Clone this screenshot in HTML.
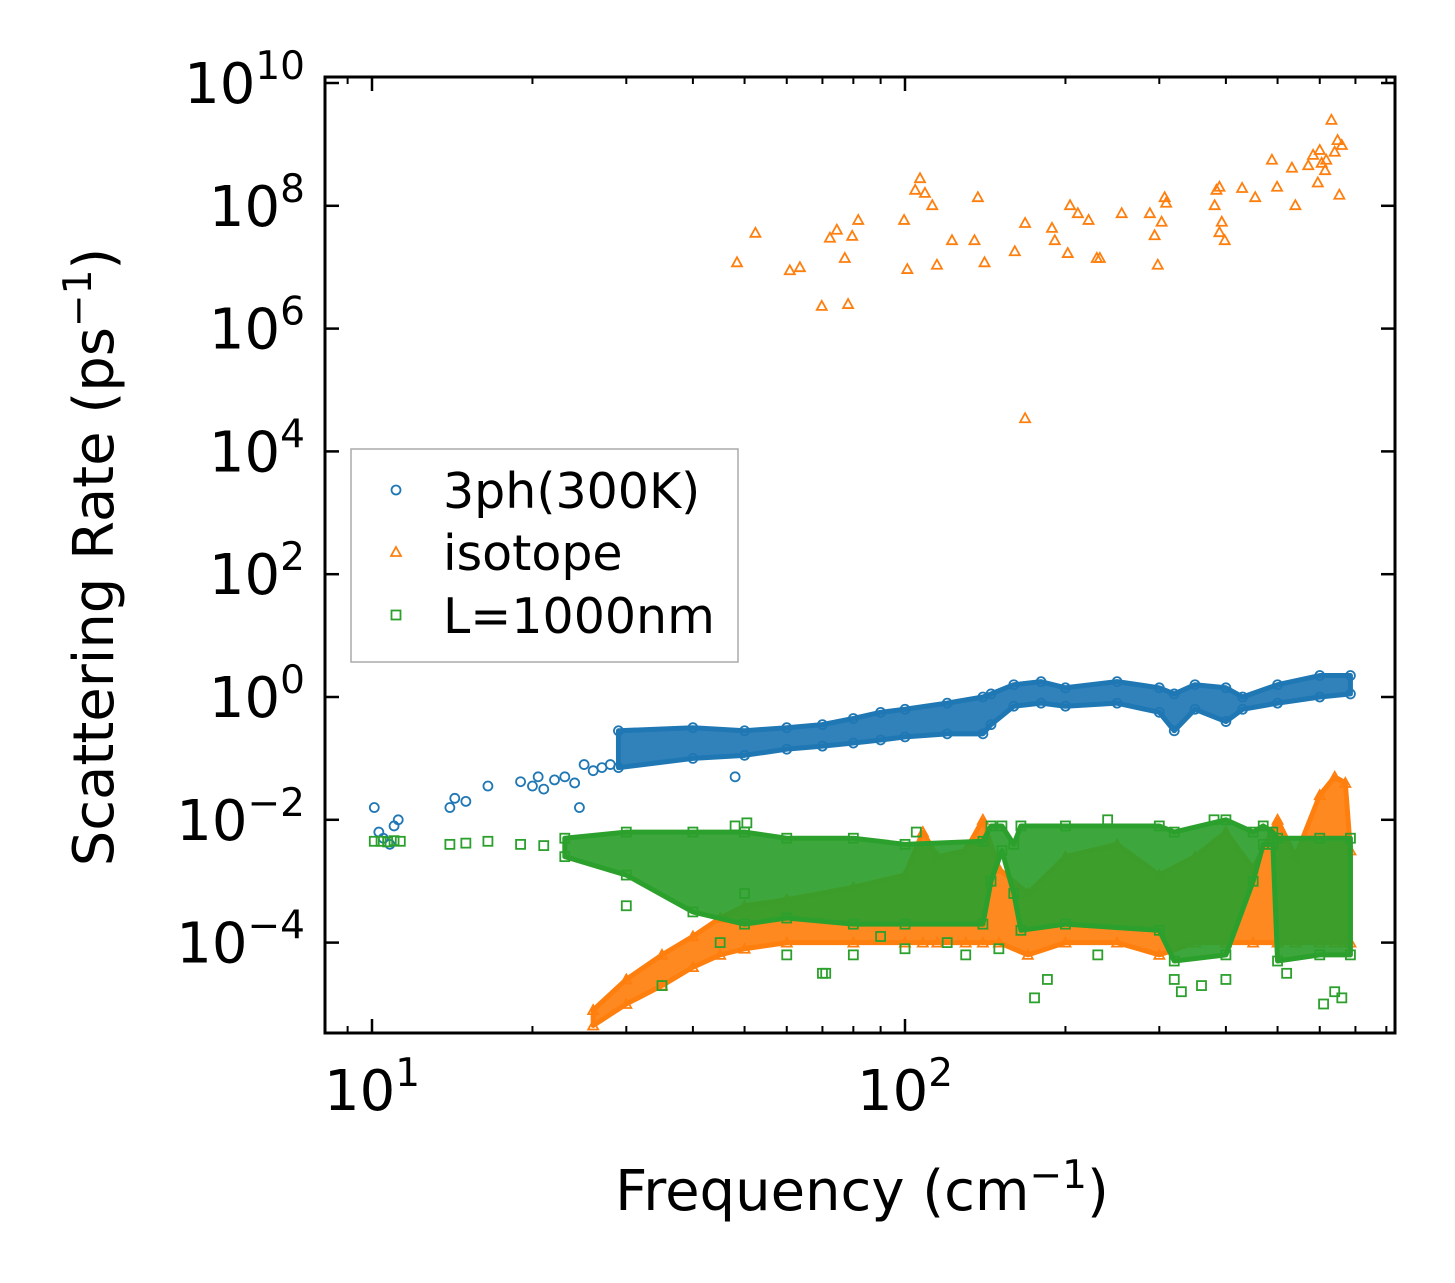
<!DOCTYPE html>
<html><head><meta charset="utf-8"><style>
html,body{margin:0;padding:0;background:#fff;}
svg{display:block;font-family:"DejaVu Sans","Liberation Sans",sans-serif;}
</style></head><body>
<svg id="chart" width="1455" height="1283" viewBox="0 0 1455 1283" xmlns="http://www.w3.org/2000/svg">
<rect width="1455" height="1283" fill="#fff"/>
<g id="marks"></g>
<rect x="325" y="77" width="1070" height="956" fill="none" stroke="#000" stroke-width="3"/>
<g id="ticks"></g>
<text transform="translate(113,557) rotate(-90)" text-anchor="middle" font-size="56">Scattering Rate (ps<tspan dy="-22" font-size="39">−1</tspan><tspan dy="22">)</tspan></text>
<text x="862" y="1210" text-anchor="middle" font-size="56">Frequency (cm<tspan dy="-22" font-size="39">−1</tspan><tspan dy="22">)</tspan></text>
<g>
<rect x="351" y="449" width="387" height="213" fill="#fff" stroke="#aaa" stroke-width="1.5"/>
<circle cx="396" cy="490" r="4.5" fill="none" stroke="#1f77b4" stroke-width="1.8"/>
<text x="443" y="508" font-size="49">3ph(300K)</text>
<polygon points="396,547 401,556 391,556" fill="none" stroke="#ff7f0e" stroke-width="1.8"/>
<text x="443" y="570" font-size="49">isotope</text>
<rect x="391.5" y="610.5" width="9" height="9" fill="none" stroke="#2ca02c" stroke-width="1.8"/>
<text x="443" y="633" font-size="49">L=1000nm</text>
</g>
</svg>
<script>
// ---- data (frequency in cm^-1, rates as log10 of ps^-1) ----
const blueFreq = [10.1,10.3,10.5,10.8,11,11.2,14,14.3,15,16.5,19,20,20.5,21,22,23,24,25,26,27,28,24.5,48];
const blueLog  = [-1.8,-2.2,-2.3,-2.4,-2.1,-2.0,-1.8,-1.65,-1.7,-1.45,-1.38,-1.45,-1.3,-1.5,-1.35,-1.3,-1.4,-1.1,-1.2,-1.15,-1.1,-1.8,-1.3];
const blueBandFreq = [29,40,50,60,70,80,90,100,120,140,145,160,180,200,250,300,320,350,400,430,500,600,685];
const blueBandLo   = [-1.15,-1.0,-0.95,-0.85,-0.8,-0.75,-0.7,-0.65,-0.6,-0.6,-0.45,-0.15,-0.1,-0.15,-0.1,-0.25,-0.55,-0.2,-0.4,-0.2,-0.1,0.0,0.05];
const blueBandHi   = [-0.55,-0.5,-0.55,-0.5,-0.45,-0.35,-0.25,-0.2,-0.1,0.0,0.05,0.2,0.25,0.15,0.25,0.15,0.05,0.2,0.15,0.0,0.2,0.35,0.35];

const orangeFreq = [48.4,52.4,60.8,63.5,69.8,72.3,74.5,77.1,78.2,79.6,81.7,99.6,101,104.5,106.7,109,112.5,114.8,122.5,135,137,141,160.7,168,168,188.7,191,202,204,211,221,229,232,255,288,294,298,303,307,309,381,384,389,389,393,398,429,454,488,499,532,540,571,583,595,600,605,614,617,631,640,648,653,660];
const orangeLog  = [7.08,7.56,6.95,7.0,6.37,7.48,7.61,7.15,6.40,7.51,7.77,7.77,6.97,8.26,8.45,8.21,8.01,7.04,7.44,7.44,8.14,7.08,7.26,4.54,7.72,7.64,7.44,7.23,8.01,7.88,7.77,7.15,7.15,7.88,7.88,7.52,7.04,7.74,8.14,8.05,8.01,8.26,8.31,7.57,7.74,7.44,8.29,8.14,8.75,8.31,8.62,8.01,8.66,8.83,8.38,8.91,8.70,8.58,8.75,9.4,8.88,9.07,8.18,8.99];
const orangeBandFreq = [26,30,35,40,45,50,60,80,100,108,115,130,140,150,170,200,250,300,350,400,450,500,540,600,640,670,685];
const orangeBandLo   = [-5.35,-5.0,-4.7,-4.4,-4.2,-4.1,-4.0,-4.0,-4.0,-4.0,-4.0,-4.0,-4.0,-4.0,-4.2,-4.0,-4.0,-4.2,-4.0,-4.0,-4.0,-4.0,-4.0,-4.0,-4.0,-4.0,-4.0];
const orangeBandHi   = [-5.1,-4.6,-4.2,-3.9,-3.6,-3.4,-3.3,-3.1,-2.9,-2.2,-2.6,-2.5,-2.0,-2.8,-3.2,-2.6,-2.4,-2.9,-2.6,-2.2,-2.8,-2.0,-2.6,-1.6,-1.3,-1.4,-2.5];

const greenFreq = [10.1,10.4,10.7,11,11.3,14,15,16.5,19,21,35,70,71,45,60,80,90,100,120,130,150,175,185,230,320,330,360,400,520,610,640,660,30,50,48,50.5,105,240,380];
const greenLog  = [-2.35,-2.35,-2.36,-2.34,-2.35,-2.4,-2.38,-2.35,-2.4,-2.42,-4.7,-4.5,-4.5,-4.0,-4.2,-4.2,-3.9,-4.1,-4.0,-4.2,-4.1,-4.9,-4.6,-4.2,-4.6,-4.8,-4.7,-4.6,-4.5,-5.0,-4.8,-4.9,-3.4,-3.2,-2.1,-2.05,-2.2,-2.0,-2.0];
const greenBandFreq = [23,30,40,50,60,80,100,140,145,152,160,165,200,300,320,400,450,470,490,500,600,685];
const greenBandLo   = [-2.6,-2.9,-3.5,-3.7,-3.6,-3.7,-3.7,-3.7,-3.0,-2.5,-3.2,-3.8,-3.7,-3.8,-4.3,-4.2,-3.0,-2.4,-2.4,-4.3,-4.2,-4.2];
const greenBandHi   = [-2.3,-2.2,-2.2,-2.2,-2.3,-2.3,-2.4,-2.35,-2.1,-2.1,-2.4,-2.1,-2.1,-2.1,-2.2,-2.0,-2.2,-2.1,-2.2,-2.3,-2.3,-2.3];

const yTickExps = [-4,-2,0,2,4,6,8,10];
const xTickExps = [1,2];
const xMinorTicks = [9,20,30,40,50,60,70,80,90,200,300,400,500,600,700,800];

// ---- axes ----
const X0=372, XDEC=533, Y0=697, YDEC=61.4;
const xs = f => X0 + (Math.log10(f)-1)*XDEC;
const ys = l => Y0 - l*YDEC;
const NS="http://www.w3.org/2000/svg";
const marks=document.getElementById('marks');
const ticks=document.getElementById('ticks');
function mk(tag,attrs,parent){const e=document.createElementNS(NS,tag);for(const k in attrs)e.setAttribute(k,attrs[k]);parent.appendChild(e);return e;}

function band(freq,lo,hi,color,name){
  let pts=[];
  for(let i=0;i<freq.length;i++)pts.push(xs(freq[i])+','+ys(hi[i]));
  for(let i=freq.length-1;i>=0;i--)pts.push(xs(freq[i])+','+ys(lo[i]));
  const p=mk('polygon',{points:pts.join(' '),fill:color,'fill-opacity':'0.92',stroke:color,'stroke-width':'5','stroke-linejoin':'round'},marks);
  
  
}
function marker(shape,x,y,color,name){
  let e;
  if(shape==='c') e=mk('circle',{cx:x,cy:y,r:4.5,fill:'none',stroke:color,'stroke-width':1.8},marks);
  else if(shape==='t') e=mk('polygon',{points:`${x},${y-5} ${x+5},${y+4} ${x-5},${y+4}`,fill:'none',stroke:color,'stroke-width':1.8},marks);
  else e=mk('rect',{x:x-4.5,y:y-4.5,width:9,height:9,fill:'none',stroke:color,'stroke-width':1.8},marks);
  
  
}
function series(freq,vals,shape,color,name){
  for(let i=0;i<freq.length;i++) marker(shape,xs(freq[i]),ys(vals[i]),color,name);
}
function bandEdges(freq,lo,hi,shape,color,name){
  for(let i=0;i<freq.length;i++){marker(shape,xs(freq[i]),ys(lo[i]),color,name);marker(shape,xs(freq[i]),ys(hi[i]),color,name);}
}
const BLUE='#1f77b4',ORANGE='#ff7f0e',GREEN='#2ca02c';
band(blueBandFreq,blueBandLo,blueBandHi,BLUE,'3ph-dense-band');
bandEdges(blueBandFreq,blueBandLo,blueBandHi,'c',BLUE,'3ph-point');
series(blueFreq,blueLog,'c',BLUE,'3ph-point');
band(orangeBandFreq,orangeBandLo,orangeBandHi,ORANGE,'isotope-dense-band');
bandEdges(orangeBandFreq,orangeBandLo,orangeBandHi,'t',ORANGE,'isotope-point');
series(orangeFreq,orangeLog,'t',ORANGE,'isotope-point');
band(greenBandFreq,greenBandLo,greenBandHi,GREEN,'boundary-dense-band');
bandEdges(greenBandFreq,greenBandLo,greenBandHi,'s',GREEN,'boundary-point');
series(greenFreq,greenLog,'s',GREEN,'boundary-point');

// ---- ticks ----
const L=325,R=1395,T=77,B=1033;
yTickExps.forEach(e=>{
  const y=ys(e);
  mk('line',{x1:L,x2:L+14,y1:y,y2:y,stroke:'#000','stroke-width':2.5},ticks);
  mk('line',{x1:R,x2:R-14,y1:y,y2:y,stroke:'#000','stroke-width':2.5},ticks);
  const t=mk('text',{x:305,y:y+20,'text-anchor':'end','font-size':56},ticks);
  
  
  t.innerHTML='10<tspan dy="-24" font-size="39">'+(e<0?'−'+(-e):e)+'</tspan>';
});
xTickExps.forEach(e=>{
  const x=xs(Math.pow(10,e));
  mk('line',{x1:x,x2:x,y1:B,y2:B-14,stroke:'#000','stroke-width':2.5},ticks);
  mk('line',{x1:x,x2:x,y1:T,y2:T+14,stroke:'#000','stroke-width':2.5},ticks);
  const t=mk('text',{x:x,y:1110,'text-anchor':'middle','font-size':56},ticks);
  
  
  t.innerHTML='10<tspan dy="-24" font-size="39">'+e+'</tspan>';
});
xMinorTicks.forEach(f=>{
  const x=xs(f);
  mk('line',{x1:x,x2:x,y1:B,y2:B-7,stroke:'#000','stroke-width':2},ticks);
  mk('line',{x1:x,x2:x,y1:T,y2:T+7,stroke:'#000','stroke-width':2},ticks);
});
</script>
</body></html>
